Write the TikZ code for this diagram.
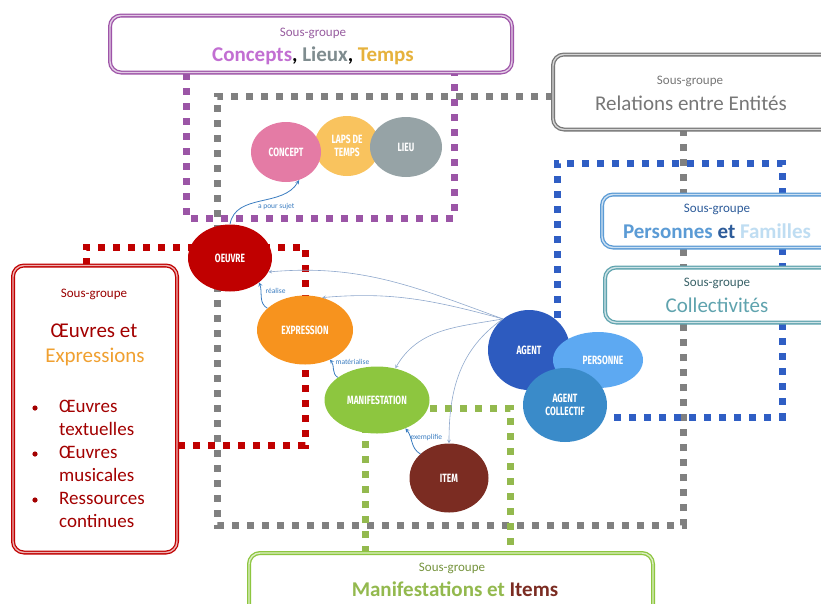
\documentclass[tikz,border=0pt]{standalone}
\usepackage{fontspec}
\setmainfont{Carlito}
\newfontfamily\bebas[FakeStretch=0.7]{Fira Sans}
\usetikzlibrary{shapes.geometric}

\definecolor{concol}{HTML}{9E54A8}
\definecolor{conceptpink}{HTML}{C26FD2}
\definecolor{lieugray}{HTML}{7F8C8F}
\definecolor{tempsgold}{HTML}{E6B23C}
\definecolor{relgray}{HTML}{777777}
\definecolor{dotgray}{HTML}{808080}
\definecolor{dotpurple}{HTML}{9B55A6}
\definecolor{dotblue}{HTML}{2F5EC4}
\definecolor{persblue}{HTML}{5B9BD5}
\definecolor{persdark}{HTML}{2E5C9A}
\definecolor{famlight}{HTML}{BFDDF2}
\definecolor{colteal}{HTML}{5FA3AE}
\definecolor{oeuvred}{HTML}{C00000}
\definecolor{exporange}{HTML}{F0A030}
\definecolor{maniggreen}{HTML}{8DC63F}
\definecolor{dotgreen}{HTML}{93B94E}
\definecolor{itembrown}{HTML}{7B2C22}
\definecolor{linkblue}{HTML}{8FA8CC}
\definecolor{labblue}{HTML}{3A7CC0}
\definecolor{lapsyellow}{HTML}{F9C35E}
\definecolor{conceptfill}{HTML}{E47BA5}
\definecolor{lieufill}{HTML}{96A3A6}
\definecolor{expfill}{HTML}{F7931E}
\definecolor{agentfill}{HTML}{2D5BBF}
\definecolor{personnefill}{HTML}{5DA9F2}
\definecolor{collectiffill}{HTML}{3A8BC9}

\tikzset{
  dots/.style={line width=7pt, dash pattern=on 7pt off 8pt},
  frame/.style={rectangle, rounded corners=11pt, draw=#1, line width=1.3pt,
    double=#1!30, double distance=1.4pt, fill=white},
  entity/.style={ellipse, fill=#1, text=white, align=center, inner sep=0pt,
    font=\bebas\bfseries\fontsize{12}{13}\selectfont},
  subtitle/.style={font=\fontsize{13}{14}\selectfont, text=#1},
  title/.style={font=\fontsize{21}{23}\selectfont},
  boldtitle/.style={font=\fontsize{21}{23}\selectfont\bfseries},
  link/.style={->, >=stealth, draw=linkblue, line width=0.6pt},
  rel/.style={->, >=stealth, draw=labblue, line width=0.8pt},
  rellabel/.style={font=\fontsize{7.5}{8}\selectfont, text=labblue}
}

\begin{document}
\begin{tikzpicture}[x=1pt, y=-1pt]

  \useasboundingbox (0,0) rectangle (821,603);

  % dotted group outlines
  \draw[dots, dotgray] (553,96) -- (217,96) -- (217,525) -- (683,525) -- (683,130);
  \draw[dots, dotpurple] (186,73) -- (186,218) -- (454,218) -- (454,73);
  \draw[dots, dotblue] (557,318) -- (557,163) -- (782,163) -- (782,417) -- (612,417);
  \draw[dots, oeuvred] (86,265) -- (86,247) -- (305,247) -- (305,445) -- (177,445);
  \draw[dots, dotgreen] (365,553) -- (365,408) -- (510,408) -- (510,553);

  % sub-group boxes
  \node[frame=concol, minimum width=402pt, minimum height=57pt] (concepts) at (311,44) {};
  \node[subtitle=concol!80!gray] (conceptssub) at (313,33) {Sous-groupe};
  \node[boldtitle] (conceptstitle) at (313,56)
    {\textcolor{conceptpink}{Concepts}, \textcolor{lieugray}{Lieux}, \textcolor{tempsgold}{Temps}};

  \node[frame=relgray, minimum width=290pt, minimum height=75pt] (relations) at (698,92) {};
  \node[subtitle=relgray] (relationssub) at (690,81) {Sous-groupe};
  \node[title, text=relgray] (relationstitle) at (691,103) {Relations entre Entités};

  \node[frame=persblue, minimum width=240pt, minimum height=53pt] (personnes) at (722,221) {};
  \node[subtitle=persdark] (personnessub) at (717,209) {Sous-groupe};
  \node[boldtitle] (personnestitle) at (717,231)
    {\textcolor{persblue}{Personnes} \textcolor{persdark}{et} \textcolor{famlight}{Familles}};

  \node[frame=colteal, minimum width=236pt, minimum height=55pt] (collectivites) at (723,295) {};
  \node[subtitle=colteal!60!black] (collectivitessub) at (717,283) {Sous-groupe};
  \node[title, text=colteal] (collectivitestitle) at (717,305) {Collectivités};

  \node[frame=oeuvred, minimum width=164pt, minimum height=287pt] (oeuvres) at (95,409) {};
  \node[subtitle=oeuvred!80!black] (oeuvressub) at (94,294) {Sous-groupe};
  \node[title, text=oeuvred!85!black] (oeuvrestitle) at (94,331) {Œuvres et};
  \node[title, text=exporange] (expressionstitle) at (95,357) {Expressions};
  \node[font=\fontsize{19}{23}\selectfont, text=oeuvred!85!black, align=left, anchor=north west,
    inner sep=0pt] (oeuvreslist) at (59,400)
    {Œuvres\\textuelles\\Œuvres\\musicales\\Ressources\\continues};
  \foreach \y [count=\i] in {408,454,500}
    \fill[oeuvred!85!black] (35,\y) circle (2.6pt) coordinate (bullet\i);

  \node[frame=maniggreen, minimum width=404pt, minimum height=70pt] (manifestations) at (451,588) {};
  \node[subtitle=dotgreen!80!black] (manifestationssub) at (452,568) {Sous-groupe};
  \node[boldtitle] (manifestationstitle) at (455,589)
    {\textcolor{dotgreen}{Manifestations et} \textcolor{itembrown}{Items}};

  % entities
  \node[entity=lapsyellow, minimum width=65pt, minimum height=60pt] (laps) at (347,146) {LAPS DE\\TEMPS};
  \node[entity=conceptfill, minimum width=70pt, minimum height=60pt] (concept) at (286,152) {CONCEPT};
  \node[entity=lieufill, minimum width=72pt, minimum height=60pt] (lieu) at (406,147) {LIEU};

  \node[entity=oeuvred, minimum width=84pt, minimum height=67pt] (oeuvre) at (230,258) {OEUVRE};
  \node[entity=expfill, minimum width=96pt, minimum height=69pt] (expression) at (305,330) {EXPRESSION};
  \node[entity=maniggreen, minimum width=105pt, minimum height=67pt] (manifestation) at (377,400) {MANIFESTATION};
  \node[entity=itembrown, minimum width=79pt, minimum height=69pt] (item) at (449,478) {ITEM};

  \node[entity=agentfill, minimum width=82pt, minimum height=80pt] (agent) at (529,350) {AGENT};
  \node[entity=personnefill, minimum width=90pt, minimum height=56pt] (personne) at (598,360) {\hspace*{10pt}PERSONNE};
  \node[entity=collectiffill, minimum width=84pt, minimum height=74pt] (collectif) at (565,405) {AGENT\\COLLECTIF};

  % relations
  \draw[rel] (oeuvre.north) to[out=80, in=240] node[rellabel, pos=0.45, below right=-2pt] (sujetlabel) {a pour sujet} (concept.-65);
  \draw[rel] (expression.150) to[out=150, in=-70] (oeuvre.-40);
  \node[rellabel, anchor=west] (realiselabel) at (262,291) {réalise};
  \draw[rel] (manifestation.150) to[out=150, in=-50] (expression.-50);
  \node[rellabel, anchor=west] (materialiselabel) at (332,362) {matérialise};
  \draw[rel] (item.140) to[out=150, in=-50] (manifestation.-45);
  \node[rellabel, anchor=west] (exemplifielabel) at (407,437) {exemplifie};

  \draw[link] (agent.130) to[out=160, in=5] (oeuvre.-20);
  \draw[link] (agent.130) to[out=165, in=5] (expression.62);
  \draw[link] (agent.130) to[out=190, in=60] (manifestation.60);
  \draw[link] (agent.130) to[out=215, in=90] (item.north);

\end{tikzpicture}
\end{document}
